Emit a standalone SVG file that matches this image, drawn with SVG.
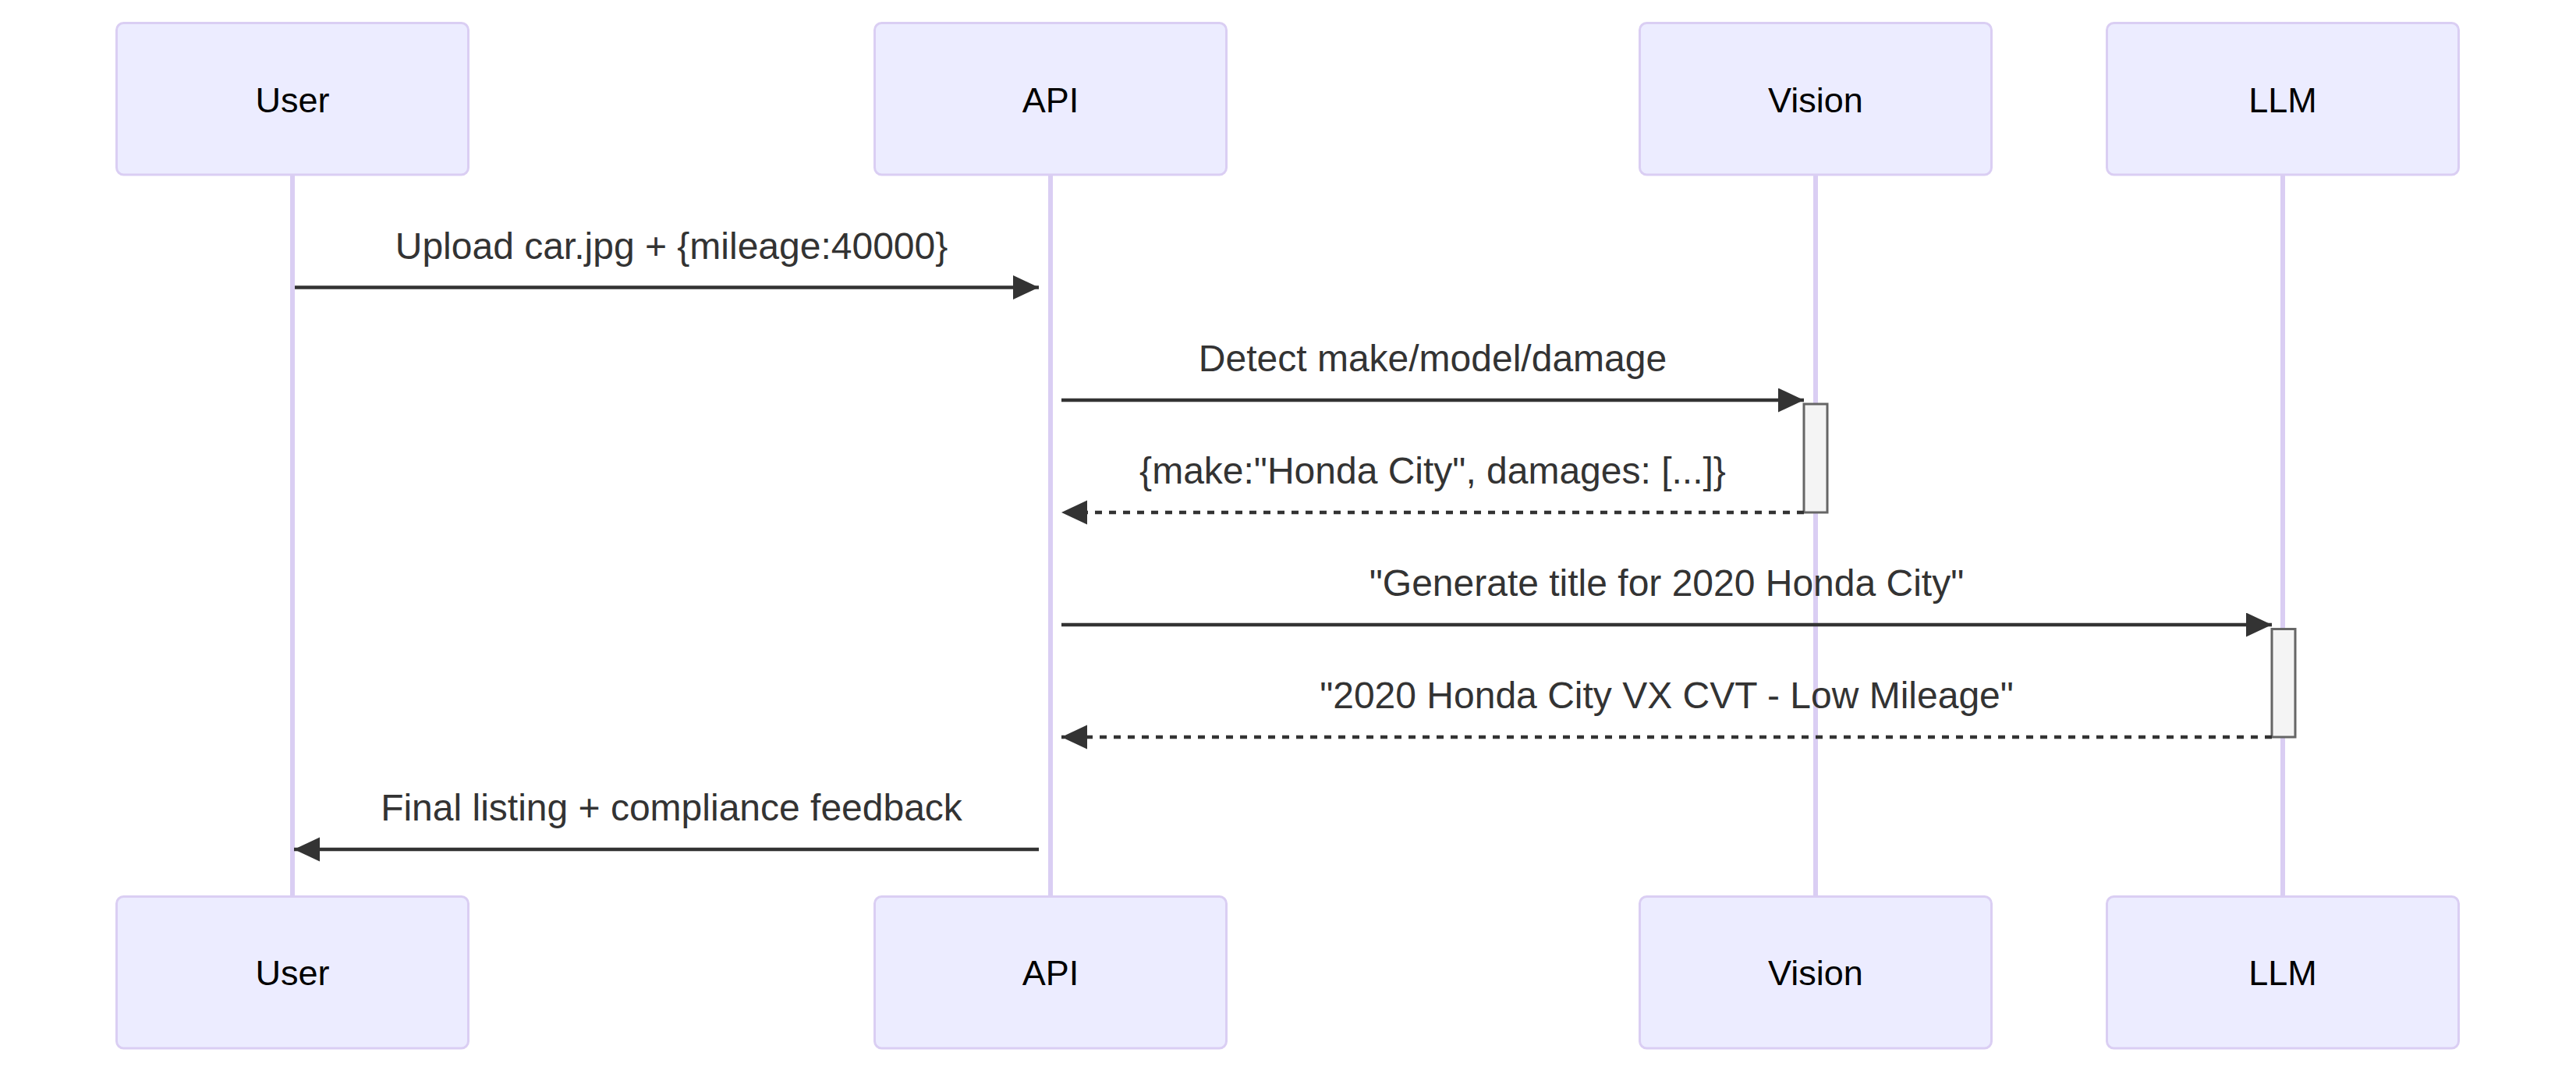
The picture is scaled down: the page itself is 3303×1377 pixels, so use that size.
<svg xmlns="http://www.w3.org/2000/svg" width="3303" height="1377" viewBox="0 0 3303 1377">
<style>
.actor{fill:#ECECFF;stroke:#DACEF3;stroke-width:3}
.actor-label{font-family:"Liberation Sans",Arial,sans-serif;font-size:45px;fill:#000;text-anchor:middle}
.lifeline{stroke:#DACEF3;stroke-width:6}
.msg{stroke:#333;stroke-width:4.5;fill:none}
.dashed{stroke-dasharray:9 9}
.msg-label{font-family:"Liberation Sans",Arial,sans-serif;font-size:48px;fill:#333;text-anchor:middle}
.activation{fill:#F4F4F4;stroke:#666;stroke-width:3}
</style>
<defs>
<marker id="arrow" markerUnits="userSpaceOnUse" markerWidth="34" markerHeight="32" viewBox="0 0 34 32" refX="33" refY="15.5" orient="auto">
<path d="M0,0 L33,15.5 L0,31 z" fill="#333"/>
</marker>
</defs>
<rect width="3303" height="1377" fill="#fff"/>
<g id="lifelines">
<line class="lifeline" x1="375" y1="224" x2="375" y2="1150"/>
<line class="lifeline" x1="1347" y1="224" x2="1347" y2="1150"/>
<line class="lifeline" x1="2328" y1="224" x2="2328" y2="1150"/>
<line class="lifeline" x1="2927" y1="224" x2="2927" y2="1150"/>
</g>
<g id="actor-User">
<rect class="actor" x="149.5" y="29.5" width="451" height="194.5" rx="9"/>
<text class="actor-label" x="375" y="144">User</text>
<rect class="actor" x="149.5" y="1149.5" width="451" height="194.5" rx="9"/>
<text class="actor-label" x="375" y="1263">User</text>
</g>
<g id="actor-API">
<rect class="actor" x="1121.5" y="29.5" width="451" height="194.5" rx="9"/>
<text class="actor-label" x="1347" y="144">API</text>
<rect class="actor" x="1121.5" y="1149.5" width="451" height="194.5" rx="9"/>
<text class="actor-label" x="1347" y="1263">API</text>
</g>
<g id="actor-Vision">
<rect class="actor" x="2102.5" y="29.5" width="451" height="194.5" rx="9"/>
<text class="actor-label" x="2328" y="144">Vision</text>
<rect class="actor" x="2102.5" y="1149.5" width="451" height="194.5" rx="9"/>
<text class="actor-label" x="2328" y="1263">Vision</text>
</g>
<g id="actor-LLM">
<rect class="actor" x="2701.5" y="29.5" width="451" height="194.5" rx="9"/>
<text class="actor-label" x="2927" y="144">LLM</text>
<rect class="actor" x="2701.5" y="1149.5" width="451" height="194.5" rx="9"/>
<text class="actor-label" x="2927" y="1263">LLM</text>
</g>
<g id="activation-Vision">
<rect class="activation" x="2313" y="518" width="30" height="139"/>
</g>
<g id="activation-LLM">
<rect class="activation" x="2913" y="806.5" width="30" height="138.5"/>
</g>
<g id="connectors">
<line class="msg" x1="378" y1="368.5" x2="1332" y2="368.5" marker-end="url(#arrow)"/>
<text class="msg-label" x="861" y="332">Upload car.jpg + {mileage:40000}</text>
<line class="msg" x1="1361" y1="513" x2="2313" y2="513" marker-end="url(#arrow)"/>
<text class="msg-label" x="1837" y="476">Detect make/model/damage</text>
<line class="msg dashed" x1="2313" y1="657" x2="1361" y2="657" marker-end="url(#arrow)"/>
<text class="msg-label" x="1837" y="620">{make:"Honda City", damages: [...]}</text>
<line class="msg" x1="1361" y1="801" x2="2913" y2="801" marker-end="url(#arrow)"/>
<text class="msg-label" x="2137" y="764">"Generate title for 2020 Honda City"</text>
<line class="msg dashed" x1="2913" y1="945" x2="1361" y2="945" marker-end="url(#arrow)"/>
<text class="msg-label" x="2137" y="908">"2020 Honda City VX CVT - Low Mileage"</text>
<line class="msg" x1="1332" y1="1089" x2="377" y2="1089" marker-end="url(#arrow)"/>
<text class="msg-label" x="861" y="1052">Final listing + compliance feedback</text>
</g>
</svg>
